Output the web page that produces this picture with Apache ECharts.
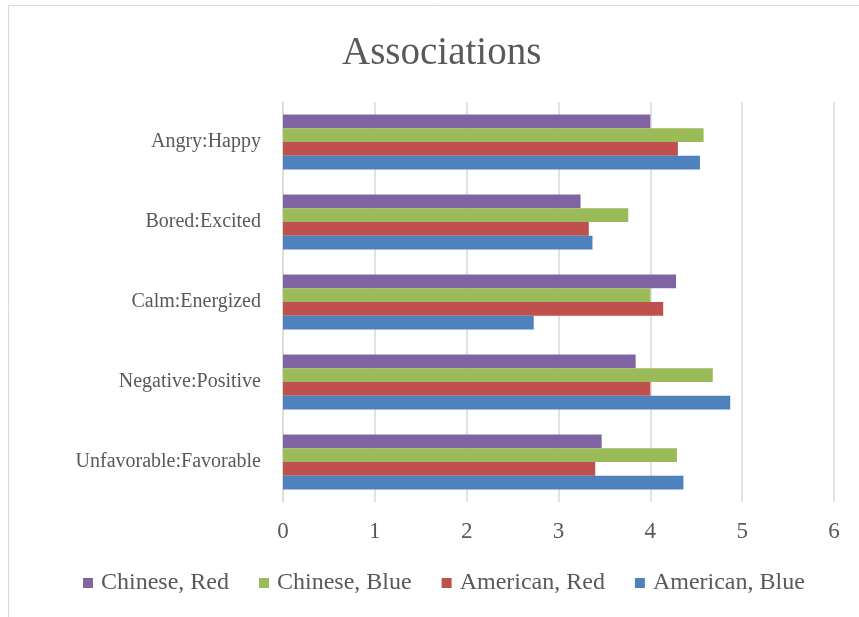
<!DOCTYPE html>
<html><head><meta charset="utf-8">
<script src="https://cdn.jsdelivr.net/npm/echarts@6/dist/echarts.min.js"></script>
<style>html,body{margin:0;padding:0;background:#fff}#c{width:859px;height:617px}</style>
</head><body><div id="c"></div>
<script>
const categories = ['Unfavorable:Favorable','Negative:Positive','Calm:Energized','Bored:Excited','Angry:Happy'];
const americanBlue = [4.36, 4.87, 2.73, 3.37, 4.54];
const americanRed = [3.40, 4.00, 4.14, 3.33, 4.30];
const chineseBlue = [4.29, 4.68, 4.00, 3.76, 4.58];
const chineseRed = [3.47, 3.84, 4.28, 3.24, 4.00];
const xTicks = [0, 6, 1];
const FONT = "'Liberation Serif', serif";
const chart = echarts.init(document.getElementById('c'));
const mk = (name, data, color) => ({name, type:'bar', data, itemStyle:{color}, barGap:'0%', barCategoryGap:'31%'});
chart.setOption({
  animation:false,
  graphic:[{type:'rect', shape:{x:8.5,y:5.5,width:900,height:700}, style:{fill:'none', stroke:'#d9d9d9', lineWidth:1}, z:-1}],
  title:{text:'Associations', left:337, top:29, textStyle:{fontFamily:FONT, fontSize:39, fontWeight:'normal', color:'#595959'}},
  legend:{data:['Chinese, Red','Chinese, Blue','American, Red','American, Blue'], bottom:17, left:78, itemWidth:10, itemHeight:10, itemGap:30, icon:'rect',
    textStyle:{fontFamily:FONT, fontSize:24, color:'#595959', padding:[0,0,0,3]}},
  grid:{left:283, right:25, top:102, bottom:115},
  xAxis:{type:'value', min:xTicks[0], max:xTicks[1], interval:xTicks[2],
    axisLine:{show:false}, axisTick:{show:false},
    splitLine:{lineStyle:{color:'#d9d9d9', width:1.5}},
    axisLabel:{fontFamily:FONT, fontSize:23, color:'#595959', margin:18}},
  yAxis:{type:'category', data:categories,
    axisLine:{show:true, lineStyle:{color:'#d9d9d9', width:1.5}}, axisTick:{show:false},
    axisLabel:{fontFamily:FONT, fontSize:20, color:'#595959', margin:22}},
  series:[
    mk('Chinese, Red', chineseRed, '#8064A2'),
    mk('Chinese, Blue', chineseBlue, '#9BBB59'),
    mk('American, Red', americanRed, '#C0504D'),
    mk('American, Blue', americanBlue, '#4F81BD')
  ]
});
</script></body></html>
